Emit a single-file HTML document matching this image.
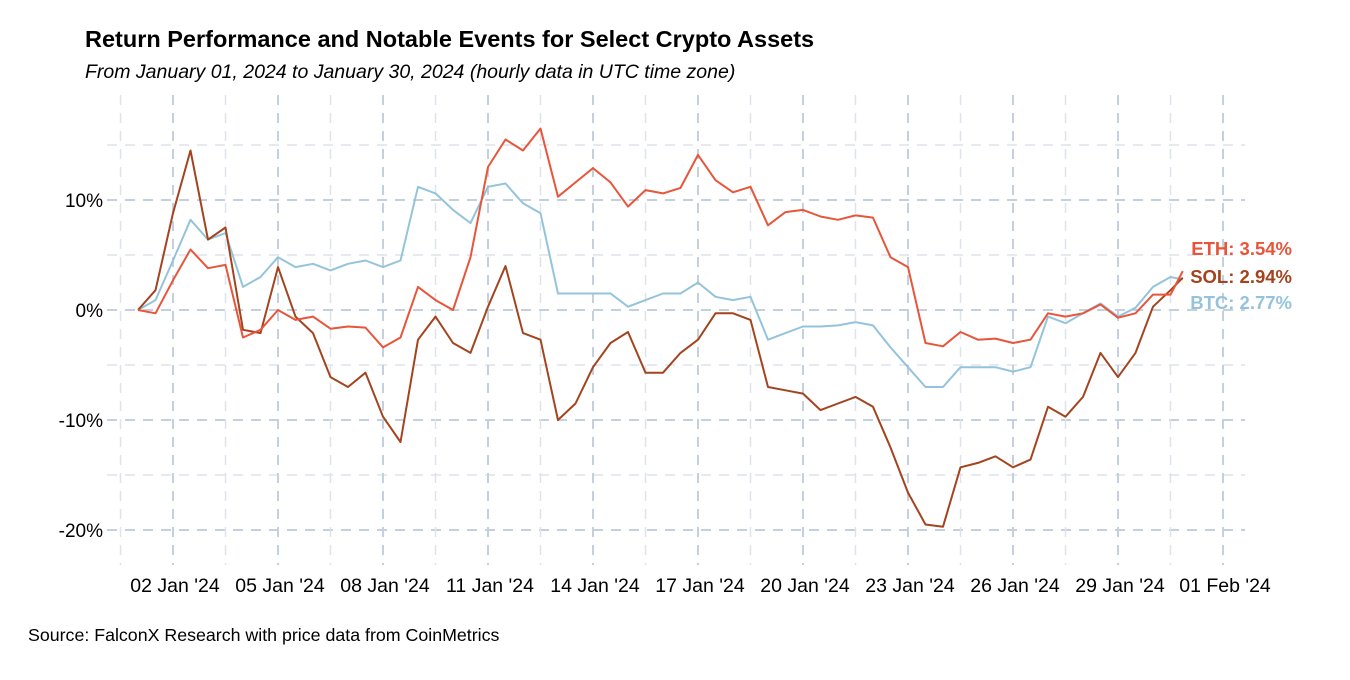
<!DOCTYPE html>
<html><head><meta charset="utf-8"><style>
body{margin:0;background:#fff;}
svg text{font-family:"Liberation Sans",Arial,sans-serif;}
</style></head><body>
<svg id="chart" width="1350" height="675" viewBox="0 0 1350 675" xmlns="http://www.w3.org/2000/svg">
<text x="85" y="47" font-size="23.5" font-weight="bold" fill="#000">Return Performance and Notable Events for Select Crypto Assets</text>
<text x="85" y="78" font-size="19.5" font-style="italic" fill="#000">From January 01, 2024 to January 30, 2024 (hourly data in UTC time zone)</text>
<text x="28" y="641" font-size="17.8" fill="#000">Source: FalconX Research with price data from CoinMetrics</text>
<g id="grid"></g>
<g id="axes"></g>
<g id="series"></g>
<g id="labels"></g>
</svg>
<script>
const times=[0,0.5,1,1.5,2,2.5,3,3.5,4,4.5,5,5.5,6,6.5,7,7.5,8,8.5,9,9.5,10,10.5,11,11.5,12,12.5,13,13.5,14,14.5,15,15.5,16,16.5,17,17.5,18,18.5,19,19.5,20,20.5,21,21.5,22,22.5,23,23.5,24,24.5,25,25.5,26,26.5,27,27.5,28,28.5,29,29.5,29.85];
const ethValues=[0,-0.3,2.7,5.5,3.8,4.1,-2.5,-1.8,0,-0.9,-0.6,-1.7,-1.5,-1.6,-3.4,-2.5,2.1,0.9,0,4.8,13,15.5,14.5,16.5,10.3,11.6,12.9,11.6,9.4,10.9,10.6,11.1,14.1,11.8,10.7,11.2,7.7,8.9,9.1,8.5,8.2,8.6,8.4,4.8,3.9,-3,-3.3,-2,-2.7,-2.6,-3,-2.7,-0.3,-0.6,-0.3,0.5,-0.7,-0.3,1.4,1.4,3.54];
const solValues=[0,1.8,8.8,14.5,6.4,7.5,-1.8,-2.1,3.9,-0.6,-2.1,-6.1,-7,-5.7,-9.7,-12,-2.7,-0.6,-3,-3.9,0.3,4,-2.1,-2.7,-10,-8.5,-5.2,-3,-2,-5.7,-5.7,-3.9,-2.7,-0.3,-0.3,-0.9,-7,-7.3,-7.6,-9.1,-8.5,-7.9,-8.8,-12.5,-16.6,-19.5,-19.7,-14.3,-13.9,-13.3,-14.3,-13.6,-8.8,-9.7,-7.9,-3.9,-6.1,-3.9,0.3,1.8,2.94];
const btcValues=[0,0.9,4.5,8.2,6.4,7,2.1,3,4.8,3.9,4.2,3.6,4.2,4.5,3.9,4.5,11.2,10.6,9.1,7.9,11.2,11.5,9.7,8.8,1.5,1.5,1.5,1.5,0.3,0.9,1.5,1.5,2.5,1.2,0.9,1.2,-2.7,-2.1,-1.5,-1.5,-1.4,-1.1,-1.4,-3.4,-5.2,-7,-7,-5.2,-5.2,-5.2,-5.6,-5.2,-0.6,-1.2,-0.3,0.6,-0.6,0.2,2.1,3,2.77];
const yTicks=[10,0,-10,-20];
const yTickLabels=["10%","0%","-10%","-20%"];
const xTickDays=[1,4,7,10,13,16,19,22,25,28,31];
const xTickLabels=["02 Jan '24","05 Jan '24","08 Jan '24","11 Jan '24","14 Jan '24","17 Jan '24","20 Jan '24","23 Jan '24","26 Jan '24","29 Jan '24","01 Feb '24"];
const seriesNames=["ETH","SOL","BTC"];

const NS="http://www.w3.org/2000/svg";
const X=d=>138+d*35;
const Y=v=>310-v*11;
function mk(tag,attrs,parent){const e=document.createElementNS(NS,tag);for(const k in attrs)e.setAttribute(k,attrs[k]);parent.appendChild(e);return e;}
const grid=document.getElementById('grid'),axes=document.getElementById('axes'),ser=document.getElementById('series'),lab=document.getElementById('labels');
for(let v=-20;v<=15;v+=5){const y=Y(v);const major=v%10===0;
 const l=mk('line',{x1:107,x2:1245,y1:y,y2:y,stroke:major?'#c5d0de':'#dde3ec','stroke-width':major?2:1.5,'stroke-dasharray':'10,8'},grid);
 
 }
for(let d=-0.5;d<=31.5;d+=1.5){const x=X(d);if(x<105||x>1250)continue;const major=Math.abs((d-1)%3)<0.01;
 const l=mk('line',{x1:x,x2:x,y1:95,y2:565,stroke:major?'#c5d0de':'#dde3ec','stroke-width':major?2:1.5,'stroke-dasharray':'10,8'},grid);
 
 }
yTicks.forEach((v,i)=>{const t=mk('text',{x:103,y:Y(v)+7,'text-anchor':'end','font-size':19,fill:'#000'},axes);t.textContent=yTickLabels[i];
 
 });
xTickDays.forEach((d,i)=>{const t=mk('text',{x:X(d)+2,y:592,'text-anchor':'middle','font-size':19.5,fill:'#000'},axes);t.textContent=xTickLabels[i];
 
 });
const colors={ETH:'#e8553a',SOL:'#a3441f',BTC:'#94c4dc'};
const data={ETH:ethValues,SOL:solValues,BTC:btcValues};
["BTC","SOL","ETH"].forEach(n=>{const vals=data[n];
 const p=mk('polyline',{points:vals.map((v,i)=>X(times[i]).toFixed(1)+','+Y(v).toFixed(1)).join(' '),fill:'none',stroke:colors[n],'stroke-width':2,'stroke-linejoin':'round'},ser);
 
 });
const labelY={ETH:255,SOL:283,BTC:309};
seriesNames.forEach(n=>{const vals=data[n];const t=mk('text',{x:1292,y:labelY[n],'text-anchor':'end','font-size':18.5,'font-weight':'bold',fill:colors[n]},lab);
 t.textContent=n+': '+vals[vals.length-1].toFixed(2)+'%';
 
 });
</script>
</body></html>
